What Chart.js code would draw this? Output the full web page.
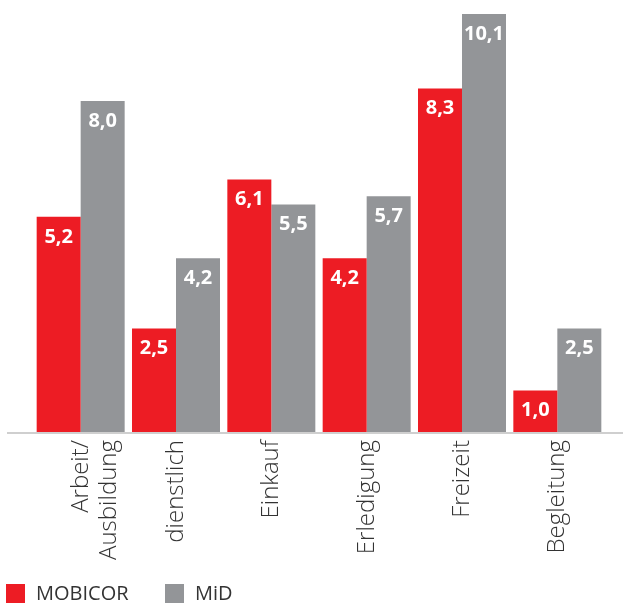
<!DOCTYPE html>
<html lang="de">
<head>
<meta charset="UTF-8">
<title>Wege nach Zweck</title>
<script src="https://cdn.jsdelivr.net/npm/chart.js@4.4.1/dist/chart.umd.min.js"></script>
<style>
    body{ margin:0; background:#fff; }
    #board{ width:623px; height:604px; }
</style>
</head>
<body>
<div id="board">
    <canvas id="chart1" width="623" height="604"></canvas>
</div>
<script>
    const categories = [['Arbeit/', 'Ausbildung'], 'dienstlich', 'Einkauf', 'Erledigung', 'Freizeit', 'Begleitung'];
    const mobicor = [5.2, 2.5, 6.1, 4.2, 8.3, 1.0];
    const mid = [8.0, 4.2, 5.5, 5.7, 10.1, 2.5];

    const RED = '#ed1c24';
    const GREY = '#939598';
    const FONT = '"Open Sans", sans-serif';

    // Werte weiss oben in den Balken
    const valueLabels = {
        id: 'valueLabels',
        afterDatasetsDraw(chart){
            const ctx = chart.ctx;
            ctx.save();
            ctx.fillStyle = '#fff';
            ctx.font = 'bold 20px ' + FONT;
            ctx.textAlign = 'center';
            ctx.textBaseline = 'middle';
            chart.data.datasets.forEach((ds, i) => {
                chart.getDatasetMeta(i).data.forEach((bar, j) => {
                    ctx.fillText(ds.data[j].toFixed(1).replace('.', ','), bar.x, bar.y + 20);
                });
            });
            ctx.restore();
        }
    };

    // Grundlinie ueber die ganze Breite
    const baseLine = {
        id: 'baseLine',
        afterDatasetsDraw(chart){
            const ctx = chart.ctx;
            const y = chart.scales.y.getPixelForValue(0);
            ctx.save();
            ctx.strokeStyle = '#cfcfcf';
            ctx.lineWidth = 2;
            ctx.beginPath();
            ctx.moveTo(7, y + 1);
            ctx.lineTo(623, y + 1);
            ctx.stroke();
            ctx.restore();
        }
    };

    // Legende unten links
    const bottomLegend = {
        id: 'bottomLegend',
        afterDraw(chart){
            const ctx = chart.ctx;
            ctx.save();
            ctx.font = '20px ' + FONT;
            ctx.textBaseline = 'middle';
            let x = 6;
            chart.data.datasets.forEach(ds => {
                ctx.fillStyle = ds.backgroundColor;
                ctx.fillRect(x, 584, 19, 19);
                ctx.fillStyle = '#333';
                ctx.fillText(ds.label, x + 30, 594);
                x += 159;
            });
            ctx.restore();
        }
    };

    new Chart(document.getElementById('chart1'), {
        type: 'bar',
        data: {
            labels: categories,
            datasets: [
                { label: 'MOBICOR', data: mobicor, backgroundColor: RED },
                { label: 'MiD', data: mid, backgroundColor: GREY }
            ]
        },
        options: {
            responsive: false,
            animation: false,
            layout: { padding: { left: 33, right: 18, top: 0, bottom: 42 } },
            datasets: { bar: { barPercentage: 1, categoryPercentage: 0.923 } },
            scales: {
                y: { display: false, min: 0, max: 10.44 },
                x: {
                    grid: { display: false },
                    border: { display: false },
                    ticks: {
                        color: '#333',
                        font: { family: FONT, size: 24, weight: 300 },
                        minRotation: 90,
                        maxRotation: 90,
                        padding: 0
                    },
                    afterFit(scale){ scale.height = 130; }
                }
            },
            plugins: {
                legend: { display: false },
                tooltip: { enabled: false }
            }
        },
        plugins: [valueLabels, baseLine, bottomLegend]
    });
</script>
</body>
</html>
